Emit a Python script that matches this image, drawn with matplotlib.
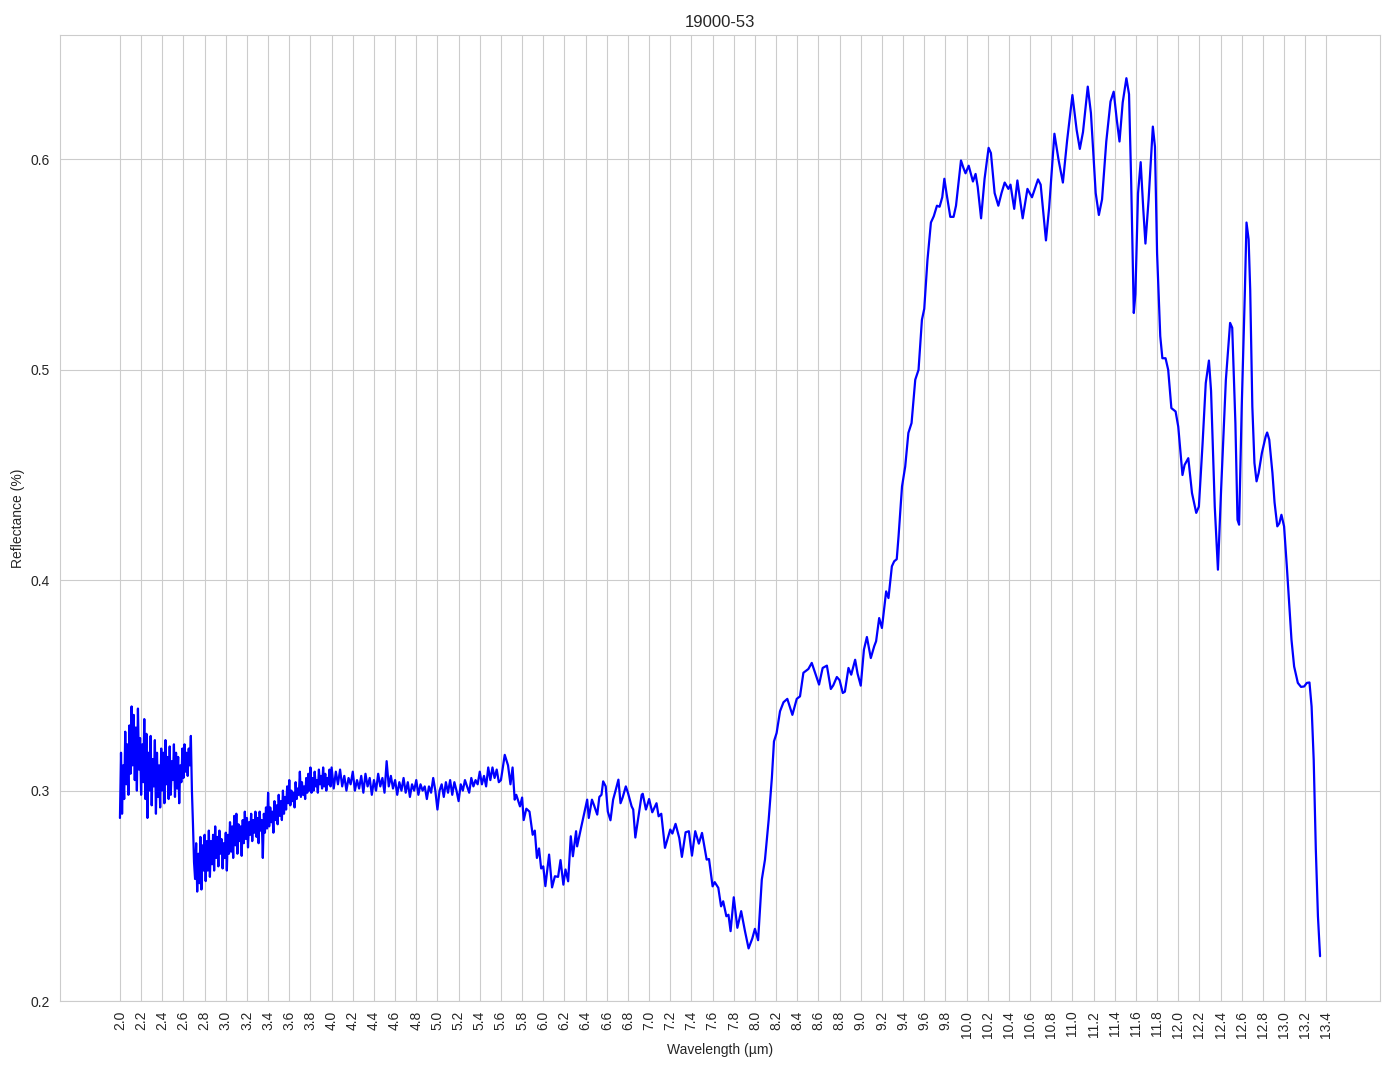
import numpy as np
import matplotlib
matplotlib.use("Agg")
import matplotlib.pyplot as plt
import seaborn as sns

# ---- data ----
# noisy segment 2.00-3.99 um, sampled every 0.01 um
noisy_a_refl = [
    0.287, 0.318, 0.289, 0.312, 0.296, 0.328, 0.303, 0.322, 0.298, 0.331,
    0.308, 0.340, 0.312, 0.336, 0.305, 0.330, 0.300, 0.339, 0.310, 0.325,
    0.298, 0.322, 0.304, 0.334, 0.296, 0.327, 0.287, 0.318, 0.300, 0.326,
    0.293, 0.315, 0.302, 0.324, 0.289, 0.318, 0.297, 0.312, 0.292, 0.320,
    0.300, 0.318, 0.294, 0.324, 0.303, 0.316, 0.296, 0.321, 0.298, 0.314,
    0.305, 0.322, 0.297, 0.318, 0.301, 0.316, 0.294, 0.312, 0.304, 0.320,
    0.306, 0.322, 0.309, 0.318, 0.307, 0.320, 0.312, 0.326, 0.300, 0.284,
    0.266, 0.258, 0.275, 0.252, 0.270, 0.256, 0.278, 0.253, 0.274, 0.262,
    0.279, 0.257, 0.276, 0.262, 0.281, 0.259, 0.276, 0.265, 0.279, 0.262,
    0.283, 0.268, 0.278, 0.264, 0.281, 0.270, 0.277, 0.263, 0.275, 0.268,
    0.280, 0.262, 0.279, 0.270, 0.285, 0.271, 0.283, 0.268, 0.288, 0.274,
    0.289, 0.270, 0.284, 0.276, 0.283, 0.269, 0.286, 0.275, 0.290, 0.277,
    0.287, 0.273, 0.285, 0.279, 0.289, 0.276, 0.286, 0.280, 0.290, 0.278,
    0.287, 0.275, 0.290, 0.281, 0.286, 0.268, 0.289, 0.280, 0.292, 0.282,
    0.299, 0.283, 0.292, 0.285, 0.290, 0.280, 0.295, 0.286, 0.293, 0.284,
    0.298, 0.288, 0.295, 0.286, 0.300, 0.289, 0.297, 0.291, 0.302, 0.294,
    0.305, 0.293, 0.300, 0.295, 0.299, 0.292, 0.304, 0.296, 0.301, 0.298,
    0.309, 0.297, 0.304, 0.298, 0.302, 0.296, 0.306, 0.299, 0.308, 0.300,
    0.311, 0.299, 0.306, 0.300, 0.309, 0.302, 0.305, 0.299, 0.310, 0.303,
    0.307, 0.301, 0.311, 0.302, 0.308, 0.300, 0.306, 0.303, 0.310, 0.302,
]
noisy_a_wl = np.round(2.00 + 0.01 * np.arange(len(noisy_a_refl)), 3)

# noisy segment 4.00-5.58 um, sampled every 0.02 um
noisy_b_refl = [
    0.311, 0.301, 0.309, 0.303, 0.310,
    0.302, 0.307, 0.300, 0.306, 0.303,
    0.309, 0.300, 0.305, 0.301, 0.307,
    0.299, 0.308, 0.302, 0.306, 0.298,
    0.305, 0.300, 0.308, 0.302, 0.306,
    0.299, 0.314, 0.302, 0.307, 0.301,
    0.305, 0.298, 0.304, 0.300, 0.306,
    0.299, 0.304, 0.297, 0.303, 0.300,
    0.305, 0.298, 0.303, 0.300, 0.302,
    0.296, 0.302, 0.299, 0.306, 0.300,
    0.291, 0.300, 0.303, 0.297, 0.304,
    0.299, 0.305, 0.298, 0.304, 0.300,
    0.295, 0.303, 0.300, 0.305, 0.302,
    0.299, 0.306, 0.302, 0.305, 0.303,
    0.309, 0.303, 0.307, 0.302, 0.311,
    0.305, 0.311, 0.306, 0.310, 0.304,
]
noisy_b_wl = np.round(4.00 + 0.02 * np.arange(len(noisy_b_refl)), 3)

# smoother segment 5.60-13.34 um
smooth_wl = [
    5.60, 5.636, 5.667, 5.69, 5.71, 5.73, 5.745, 5.78, 5.80, 5.815, 5.84, 5.87,
    5.90, 5.92, 5.94, 5.96, 5.98, 6.00, 6.02, 6.055, 6.083, 6.11, 6.14, 6.163,
    6.19, 6.21, 6.235, 6.26, 6.28, 6.31, 6.32, 6.36, 6.415, 6.43, 6.46, 6.48,
    6.51, 6.53, 6.55, 6.566, 6.59, 6.61, 6.635, 6.66, 6.68, 6.71, 6.73, 6.75,
    6.78, 6.80, 6.835, 6.85, 6.87, 6.90, 6.93, 6.94, 6.97, 7.00, 7.03, 7.07,
    7.09, 7.115, 7.15, 7.20, 7.22, 7.25, 7.285, 7.31, 7.345, 7.376, 7.405,
    7.436, 7.47, 7.50, 7.544, 7.566, 7.60, 7.62, 7.654, 7.68, 7.70, 7.73, 7.75,
    7.77, 7.80, 7.834, 7.87, 7.906, 7.94, 7.975, 8.00, 8.03, 8.065, 8.095,
    8.13, 8.16, 8.18, 8.205, 8.237, 8.27, 8.306, 8.354, 8.395, 8.426, 8.458,
    8.505, 8.537, 8.575, 8.606, 8.64, 8.68, 8.717, 8.74, 8.774, 8.80, 8.83,
    8.85, 8.884, 8.91, 8.947, 8.97, 9.00, 9.03, 9.058, 9.095, 9.127, 9.145,
    9.174, 9.20, 9.24, 9.262, 9.294, 9.316, 9.34, 9.357, 9.39, 9.42, 9.45,
    9.48, 9.515, 9.546, 9.578, 9.60, 9.63, 9.663, 9.69, 9.72, 9.745, 9.77,
    9.79, 9.81, 9.846, 9.877, 9.90, 9.947, 9.97, 9.99, 10.02, 10.06, 10.085,
    10.105, 10.137, 10.17, 10.208, 10.23, 10.265, 10.30, 10.33, 10.36, 10.395,
    10.415, 10.45, 10.48, 10.53, 10.575, 10.618, 10.675, 10.70, 10.75, 10.78,
    10.83, 10.87, 10.91, 10.95, 11.00, 11.04, 11.07, 11.10, 11.145, 11.175,
    11.22, 11.25, 11.28, 11.32, 11.36, 11.39, 11.42, 11.445, 11.475, 11.51,
    11.535, 11.555, 11.58, 11.595, 11.62, 11.645, 11.67, 11.69, 11.72, 11.76,
    11.78, 11.80, 11.83, 11.85, 11.88, 11.905, 11.935, 11.975, 12.00, 12.04,
    12.06, 12.095, 12.13, 12.17, 12.195, 12.23, 12.26, 12.29, 12.31, 12.345,
    12.375, 12.405, 12.45, 12.49, 12.51, 12.54, 12.56, 12.575, 12.60, 12.63,
    12.645, 12.665, 12.68, 12.70, 12.72, 12.74, 12.76, 12.79, 12.826, 12.84,
    12.86, 12.89, 12.91, 12.936, 12.955, 12.975, 13.00, 13.026, 13.05, 13.07,
    13.095, 13.13, 13.16, 13.19, 13.215, 13.24, 13.26, 13.28, 13.30, 13.32,
    13.34,
]
smooth_refl = [
    0.305, 0.317, 0.312, 0.303, 0.311, 0.2957, 0.298, 0.2925, 0.2967, 0.286,
    0.2914, 0.290, 0.279, 0.281, 0.268, 0.2725, 0.263, 0.264, 0.2546, 0.2696,
    0.254, 0.2593, 0.259, 0.267, 0.2553, 0.2625, 0.2569, 0.2783, 0.2688,
    0.2807, 0.2735, 0.283, 0.2957, 0.287, 0.2957, 0.293, 0.2886, 0.297, 0.298,
    0.3044, 0.302, 0.290, 0.2859, 0.2957, 0.2994, 0.3052, 0.294, 0.2967, 0.302,
    0.299, 0.2925, 0.291, 0.2777, 0.2878, 0.298, 0.2985, 0.291, 0.296, 0.2897,
    0.294, 0.2878, 0.289, 0.2728, 0.2815, 0.2796, 0.2842, 0.2775, 0.2685,
    0.2802, 0.2807, 0.2691, 0.2807, 0.2748, 0.2799, 0.2672, 0.2675, 0.2545,
    0.2565, 0.2538, 0.245, 0.2474, 0.2403, 0.241, 0.2332, 0.2493, 0.2348,
    0.2427, 0.2332, 0.225, 0.2297, 0.2343, 0.2289, 0.2577, 0.2672, 0.2862,
    0.306, 0.3234, 0.3274, 0.3377, 0.342, 0.3436, 0.336, 0.3436, 0.3448, 0.356,
    0.3578, 0.3607, 0.3551, 0.3504, 0.3583, 0.3594, 0.3483, 0.350, 0.354,
    0.3525, 0.3464, 0.347, 0.3583, 0.3551, 0.3622, 0.3556, 0.3499, 0.367,
    0.373, 0.363, 0.3686, 0.371, 0.382, 0.3773, 0.3947, 0.3915, 0.4066, 0.409,
    0.410, 0.4208, 0.4446, 0.454, 0.470, 0.4747, 0.4953, 0.500, 0.5238, 0.529,
    0.552, 0.570, 0.573, 0.578, 0.5775, 0.582, 0.5908, 0.584, 0.5727, 0.5727,
    0.578, 0.5995, 0.596, 0.5934, 0.597, 0.5895, 0.5931, 0.587, 0.572, 0.5908,
    0.6055, 0.603, 0.584, 0.578, 0.584, 0.589, 0.586, 0.588, 0.5765, 0.590,
    0.572, 0.586, 0.582, 0.5905, 0.588, 0.5615, 0.577, 0.6122, 0.5995, 0.589,
    0.609, 0.6306, 0.614, 0.605, 0.613, 0.6346, 0.622, 0.584, 0.5736, 0.581,
    0.6085, 0.6275, 0.6322, 0.6185, 0.6085, 0.627, 0.6386, 0.631, 0.590, 0.527,
    0.536, 0.5839, 0.5987, 0.576, 0.560, 0.581, 0.6156, 0.606, 0.5554, 0.516,
    0.5055, 0.5055, 0.500, 0.4818, 0.4802, 0.473, 0.450, 0.4548, 0.458, 0.4414,
    0.432, 0.435, 0.465, 0.4937, 0.5044, 0.490, 0.435, 0.405, 0.443, 0.4952,
    0.5223, 0.520, 0.4747, 0.4287, 0.4264, 0.4826, 0.538, 0.570, 0.562, 0.538,
    0.4826, 0.4557, 0.447, 0.451, 0.4604, 0.4683, 0.4702, 0.4668, 0.451, 0.437,
    0.4256, 0.427, 0.4311, 0.4256, 0.4066, 0.3876, 0.3717, 0.359, 0.3512,
    0.3493, 0.3495, 0.3512, 0.3514, 0.340, 0.3145, 0.272, 0.2403, 0.2213,
]

x_ticks = np.round(np.arange(2.0, 13.41, 0.2), 1)
title = "19000-53"

wavelength = np.concatenate([noisy_a_wl, noisy_b_wl, np.array(smooth_wl)])
reflectance = np.concatenate([noisy_a_refl, noisy_b_refl, smooth_refl])

# ---- plot ----
sns.set_style("whitegrid")
plt.rcParams['font.family'] = ['Liberation Sans', 'DejaVu Sans']

fig, ax = plt.subplots(figsize=(13.94, 10.69), dpi=100)
fig.subplots_adjust(left=0.043, right=0.99, bottom=0.0636, top=0.967)
ax.plot(wavelength, reflectance, color="blue", linewidth=1.6)
ax.set_ylim(0.2, 0.659)
ax.set_xticks(x_ticks)
ax.set_xticklabels([f"{t:.1f}" for t in x_ticks], rotation=90)
ax.set_xlabel("Wavelength (µm)")
ax.set_ylabel("Reflectance (%)")
ax.set_title(title)
fig.savefig("out.png", dpi=100)
